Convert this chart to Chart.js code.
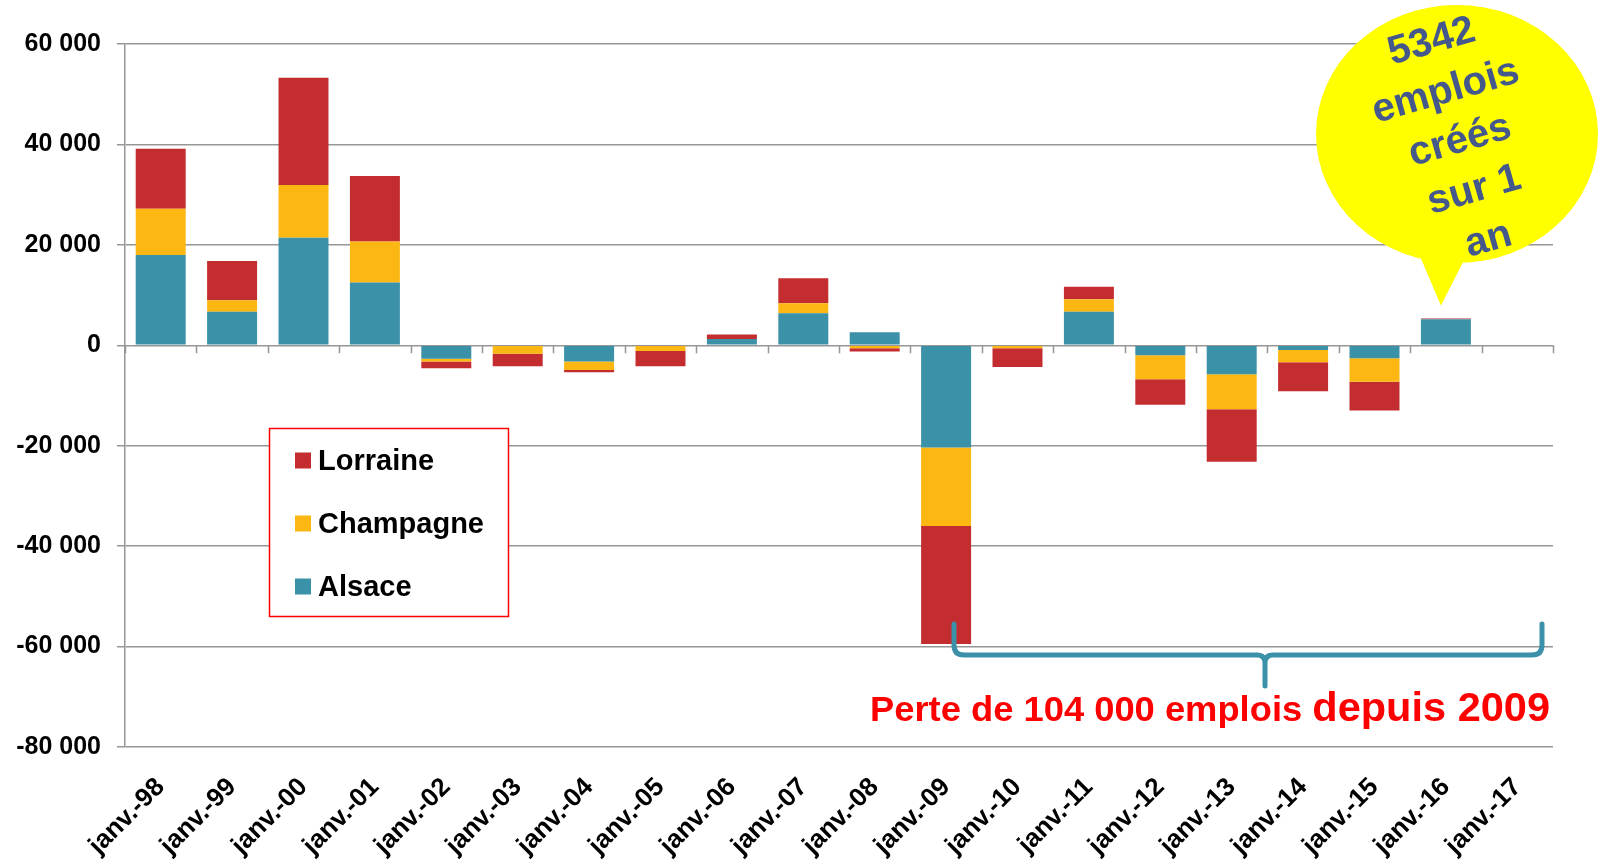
<!DOCTYPE html>
<html><head><meta charset="utf-8">
<script src="https://cdn.jsdelivr.net/npm/chart.js@4.4.1/dist/chart.umd.min.js"></script>
<style>html,body{margin:0;padding:0;background:#fff;overflow:hidden}#wrap{position:relative;width:1599px;height:864px}</style>
</head><body><div id="wrap"><canvas id="c" width="1599" height="864"></canvas></div>
<script>
const categories = ['janv.-98','janv.-99','janv.-00','janv.-01','janv.-02','janv.-03','janv.-04','janv.-05','janv.-06','janv.-07','janv.-08','janv.-09','janv.-10','janv.-11','janv.-12','janv.-13','janv.-14','janv.-15','janv.-16','janv.-17'];
const alsace    = [18000, 6700, 21400, 12500, -2700, 0, -3250, 0, 1270, 6370, 2600, -20350, 0, 6700, -2000, -5770, -920, -2580, 5200, null];
const champagne = [9200, 2270, 10500, 8170, -540, -1710, -1650, -1120, 0, 2000, -600, -15650, -600, 2450, -4770, -6950, -2460, -4700, 0, null];
const lorraine  = [11950, 7830, 21370, 13020, -1330, -2470, -480, -3060, 860, 4980, -660, -23510, -3700, 2520, -5090, -10460, -5770, -5700, 142, null];
const yTicks = [60000, 40000, 20000, 0, -20000, -40000, -60000, -80000];
const seriesNames = { lorraine: 'Lorraine', champagne: 'Champagne', alsace: 'Alsace' };
const seriesColors = { lorraine: '#C32D2F', champagne: '#FDB713', alsace: '#3A91A8' };
const bubbleLines = ['5342', 'emplois', 'créés', 'sur 1', 'an'];
const bubbleValue = 5342;
const noteText1 = 'Perte de 104 000 emplois ';
const noteText2 = 'depuis 2009';

const FONT = '"Liberation Sans", Arial, sans-serif';
const GRID = '#969696';

function fmt(v) {
  const s = Math.abs(v).toString().replace(/\B(?=(\d{3})+(?!\d))/g, ' ');
  return (v < 0 ? '-' : '') + s;
}

const annotations = {
  id: 'annotations',
  afterDraw(chart) {
    const ctx = chart.ctx;
    const x = chart.scales.x, y = chart.scales.y;
    const area = chart.chartArea;
    const y0 = y.getPixelForValue(0);
    const step = (area.right - area.left) / categories.length;
    // ticks on zero line at category boundaries
    ctx.save();
    ctx.strokeStyle = GRID; ctx.lineWidth = 1.5;
    ctx.beginPath();
    for (let k = 0; k <= categories.length; k++) {
      const px = Math.round(area.left + k * step) + 0.5;
      ctx.moveTo(px, y0); ctx.lineTo(px, y0 + 8);
    }
    ctx.stroke();
    ctx.restore();

    // legend box
    ctx.save();
    ctx.fillStyle = '#fff';
    ctx.fillRect(269, 428, 240, 189);
    ctx.strokeStyle = '#FF0000'; ctx.lineWidth = 1.5;
    ctx.strokeRect(269.5, 428.5, 239, 188);
    const ds = chart.data.datasets.slice().reverse();
    ctx.font = 'bold 29px ' + FONT;
    ctx.textBaseline = 'middle';
    ds.forEach((d, i) => {
      const cy = 460.5 + i * 63;
      ctx.fillStyle = d.backgroundColor;
      ctx.fillRect(295, cy - 8, 16, 16);
      ctx.fillStyle = '#000';
      ctx.fillText(d.label, 318, cy + 1);
    });
    ctx.restore();

    // speech bubble
    const tipX = x.getPixelForValue(18) - 5;
    const tipY = y.getPixelForValue(bubbleValue) - 13;
    ctx.save();
    ctx.fillStyle = '#FFFF00';
    ctx.beginPath();
    ctx.ellipse(1457, 134, 141, 129, 0, 0, Math.PI * 2);
    ctx.fill();
    ctx.beginPath();
    ctx.moveTo(tipX - 30, 235);
    ctx.lineTo(tipX, tipY);
    ctx.lineTo(tipX + 36, 235);
    ctx.closePath();
    ctx.fill();
    ctx.translate(1460, 141);
    ctx.rotate(-16 * Math.PI / 180);
    ctx.fillStyle = '#45588C';
    ctx.font = 'bold 40px ' + FONT;
    ctx.textAlign = 'center';
    ctx.textBaseline = 'middle';
    bubbleLines.forEach((t, i) => ctx.fillText(t, 0, (i - 2) * 51.5));
    ctx.restore();

    // bracket
    const bx1 = 954, bx2 = 1542, bm = 1265, by = 655, btop = 624, bbot = 686, r = 10;
    ctx.save();
    ctx.strokeStyle = '#3A91A8'; ctx.lineWidth = 5; ctx.lineCap = 'round'; ctx.lineJoin = 'round';
    ctx.beginPath();
    ctx.moveTo(bx1, btop);
    ctx.lineTo(bx1, by - r);
    ctx.quadraticCurveTo(bx1, by, bx1 + r, by);
    ctx.lineTo(bm - 8, by);
    ctx.quadraticCurveTo(bm, by, bm, by + 8);
    ctx.lineTo(bm, bbot);
    ctx.moveTo(bx2, btop);
    ctx.lineTo(bx2, by - r);
    ctx.quadraticCurveTo(bx2, by, bx2 - r, by);
    ctx.lineTo(bm + 8, by);
    ctx.quadraticCurveTo(bm, by, bm, by + 8);
    ctx.stroke();
    ctx.restore();

    // red note
    ctx.save();
    ctx.fillStyle = '#FF0000';
    ctx.textBaseline = 'alphabetic';
    const f1 = 'bold 35px ' + FONT, f2 = 'bold 40px ' + FONT;
    ctx.font = f1; const w1 = ctx.measureText(noteText1).width;
    ctx.font = f2; const w2 = ctx.measureText(noteText2).width;
    const target = 680, sx = target / (w1 + w2);
    ctx.translate(870, 721);
    ctx.scale(sx, 1);
    ctx.font = f1; ctx.fillText(noteText1, 0, 0);
    ctx.font = f2; ctx.fillText(noteText2, w1, 0);
    ctx.restore();
  }
};

new Chart(document.getElementById('c'), {
  type: 'bar',
  data: {
    labels: categories,
    datasets: [
      { label: seriesNames.alsace, data: alsace, backgroundColor: seriesColors.alsace },
      { label: seriesNames.champagne, data: champagne, backgroundColor: seriesColors.champagne },
      { label: seriesNames.lorraine, data: lorraine, backgroundColor: seriesColors.lorraine }
    ]
  },
  options: {
    responsive: false,
    devicePixelRatio: 1,
    animation: false,
    layout: { padding: { top: 44, right: 46, bottom: 0, left: 0 } },
    datasets: { bar: { categoryPercentage: 1, barPercentage: 0.7, borderWidth: 0 } },
    plugins: { legend: { display: false }, tooltip: { enabled: false } },
    scales: {
      x: {
        stacked: true,
        grid: { display: false, drawTicks: false },
        border: { display: false },
        ticks: { color: '#000', font: { family: FONT, size: 26, weight: 'bold' }, minRotation: 45, maxRotation: 45, padding: 25, autoSkip: false },
        afterFit: s => { s.height = 117; }
      },
      y: {
        stacked: true,
        min: -80000, max: 60000,
        afterBuildTicks: s => { s.ticks = yTicks.map(v => ({ value: v })); },
        grid: { color: GRID, lineWidth: 1.5, drawTicks: true, tickLength: 8 },
        border: { display: true, color: GRID, width: 1.5 },
        ticks: { color: '#000', font: { family: FONT, size: 25, weight: 'bold' }, padding: 16, callback: v => fmt(v) },
        afterFit: s => { s.width = 125; }
      }
    }
  },
  plugins: [annotations]
});
</script>
</body></html>
